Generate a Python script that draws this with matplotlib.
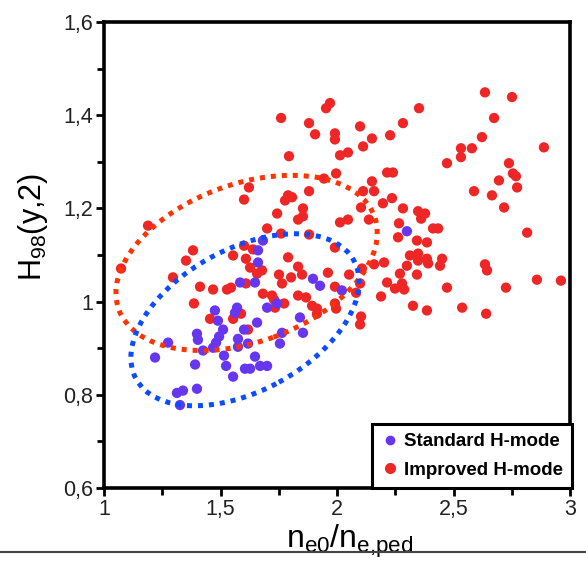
import matplotlib
matplotlib.use('Agg')
import matplotlib.pyplot as plt
from matplotlib.patches import Ellipse
from matplotlib.lines import Line2D

plt.rcParams['font.family'] = ['Liberation Sans', 'DejaVu Sans']
plt.rcParams['mathtext.fontset'] = 'custom'
plt.rcParams['mathtext.rm'] = 'Liberation Sans'
plt.rcParams['mathtext.it'] = 'Liberation Sans'

# ---------------- data ----------------
imp_x = [1.189, 1.601, 1.622, 1.382, 1.601, 1.970, 1.953, 1.760, 1.880, 1.906,
         1.991, 1.991, 2.099, 2.150, 2.112, 2.228, 2.283, 1.794, 2.013, 2.047,
         1.996, 1.944, 2.215, 2.240, 2.150, 2.112, 2.159, 1.880, 1.790, 1.807,
         1.777, 1.854, 1.854, 1.833, 1.743, 2.236, 2.197, 2.283, 2.103, 2.137,
         2.013, 2.047, 2.266, 2.262, 1.700, 1.760, 1.880, 1.991, 2.635, 2.751,
         2.352, 2.674, 2.622, 2.532, 2.579, 2.532, 2.472, 2.888, 2.738, 2.755,
         2.768, 2.695, 2.773, 2.588, 2.665, 2.717, 2.348, 2.378, 2.361, 2.412,
         2.434, 2.816, 2.343, 2.386, 2.313, 2.348, 2.386, 2.348, 2.391, 2.300,
         2.451, 2.442, 2.635, 2.644, 2.343, 2.270, 2.279, 2.288, 2.472, 2.725,
         2.858, 2.961, 2.326, 2.386, 2.537, 2.640, 1.790, 1.833, 1.850, 1.961,
         1.751, 1.764, 1.803, 2.052, 2.107, 2.099, 1.991, 2.159, 2.202, 2.215,
         2.249, 2.189, 2.082, 1.682, 1.721, 1.730, 1.773, 1.833, 1.867, 1.893,
         1.914, 1.914, 1.991, 1.996, 2.103, 2.099, 1.627, 1.657, 1.678, 1.734,
         1.073, 1.352, 1.296, 1.412, 1.468, 1.528, 1.545, 1.609, 1.386, 1.455,
         1.554, 1.588, 1.618, 1.554, 1.609, 1.639]
imp_y = [1.163, 1.219, 1.245, 1.110, 1.120, 1.426, 1.415, 1.394, 1.383, 1.359,
         1.361, 1.348, 1.376, 1.350, 1.333, 1.357, 1.383, 1.312, 1.314, 1.320,
         1.275, 1.264, 1.277, 1.277, 1.258, 1.237, 1.237, 1.237, 1.228, 1.224,
         1.217, 1.200, 1.183, 1.176, 1.189, 1.222, 1.211, 1.200, 1.202, 1.176,
         1.170, 1.176, 1.168, 1.138, 1.157, 1.146, 1.144, 1.116, 1.449, 1.439,
         1.415, 1.394, 1.353, 1.329, 1.329, 1.310, 1.297, 1.331, 1.297, 1.275,
         1.269, 1.260, 1.245, 1.237, 1.228, 1.202, 1.194, 1.189, 1.178, 1.157,
         1.157, 1.148, 1.131, 1.127, 1.099, 1.103, 1.092, 1.088, 1.082, 1.077,
         1.092, 1.077, 1.080, 1.067, 1.058, 1.060, 1.039, 1.026, 1.030, 1.030,
         1.047, 1.045, 0.991, 0.981, 0.987, 0.974, 1.095, 1.075, 1.058, 1.062,
         1.058, 1.039, 1.052, 1.058, 1.071, 1.039, 1.032, 1.080, 1.084, 1.041,
         1.028, 1.011, 1.019, 1.017, 1.013, 1.004, 0.996, 1.013, 1.009, 0.991,
         0.985, 0.974, 0.996, 0.985, 0.968, 0.951, 1.073, 1.060, 1.067, 0.987,
         1.071, 1.088, 1.052, 1.032, 1.026, 1.026, 1.030, 1.039, 0.996, 0.963,
         0.963, 0.974, 0.940, 1.099, 1.092, 1.112]

std_x = [2.300, 1.682, 1.661, 1.661, 1.584, 1.648, 1.700, 1.743, 1.897, 1.927,
         2.021, 1.476, 1.489, 1.571, 1.562, 1.657, 1.841, 1.854, 1.764, 1.755,
         1.399, 1.403, 1.511, 1.494, 1.481, 1.468, 1.425, 1.275, 1.219, 1.391,
         1.515, 1.524, 1.575, 1.575, 1.618, 1.601, 1.648, 1.605, 1.554, 1.670,
         1.700, 1.627, 1.313, 1.339, 1.399, 1.326]
std_y = [1.151, 1.131, 1.110, 1.084, 1.041, 1.041, 0.987, 0.996, 1.049, 1.034,
         1.024, 0.981, 0.959, 0.987, 0.976, 0.955, 0.966, 0.933, 0.933, 0.910,
         0.931, 0.918, 0.940, 0.925, 0.912, 0.901, 0.895, 0.912, 0.880, 0.865,
         0.884, 0.862, 0.920, 0.903, 0.910, 0.940, 0.882, 0.856, 0.839, 0.862,
         0.862, 0.856, 0.804, 0.809, 0.813, 0.778]

series_labels = ['Standard H-mode', 'Improved H-mode']

x_ticks = [1, 1.5, 2, 2.5, 3]
x_ticklabels = ['1', '1,5', '2', '2,5', '3']
y_ticks = [0.6, 0.8, 1.0, 1.2, 1.4, 1.6]
y_ticklabels = ['0,6', '0,8', '1', '1,2', '1,4', '1,6']

# ellipse annotations: centre (data units), full size (axes fraction), angle (deg)
red_ell_center = (1.612, 1.083)
red_ell_size = (0.584, 0.339)
red_ell_angle = 20
blue_ell_center = (1.605, 0.961)
blue_ell_size = (0.532, 0.305)
blue_ell_angle = 28.5

# ---------------- styles ----------------
RED = '#ee2626'
PURPLE = '#6636f0'
RED_ELL = '#ff3300'
BLUE_ELL = '#0a4cff'

fig = plt.figure(figsize=(5.86, 5.64), dpi=100)
ax = fig.add_axes([104 / 586, 1 - 488 / 564, 466 / 586, 466 / 564])

ax.scatter(imp_x, imp_y, s=55, c=RED, edgecolors='none', zorder=2)
ax.scatter(std_x, std_y, s=55, c=PURPLE, edgecolors='none', zorder=3)

ax.set_xlim(1, 3)
ax.set_ylim(0.6, 1.6)

for (c, size, ang, col) in [(red_ell_center, red_ell_size, red_ell_angle, RED_ELL),
                            (blue_ell_center, blue_ell_size, blue_ell_angle, BLUE_ELL)]:
    ca = ax.transLimits.transform(c)
    e = Ellipse(ca, size[0], size[1], angle=ang, transform=ax.transAxes,
                fill=False, edgecolor=col, linewidth=3.6,
                linestyle=(0, (1, 1.2)), zorder=4)
    ax.add_patch(e)

ax.set_xticks(x_ticks)
ax.set_xticklabels(x_ticklabels)
ax.set_yticks(y_ticks)
ax.set_yticklabels(y_ticklabels)
ax.set_xticks([1.25, 1.75, 2.25, 2.75], minor=True)
ax.set_yticks([0.7, 0.9, 1.1, 1.3, 1.5], minor=True)
ax.tick_params(which='major', direction='out', length=6, width=2, labelsize=15.5,
               labelcolor='#222222', pad=2)
ax.tick_params(which='minor', direction='out', length=5, width=2)

for sp in ax.spines.values():
    sp.set_linewidth(2.6)

ax.set_xlabel(r'n$_{\mathregular{e0}}$/n$_{\mathregular{e{,}ped}}$', fontsize=23, labelpad=0)
ax.set_ylabel(r'H$_{\mathregular{98}}$(y,2)', fontsize=22, labelpad=4)
ax.xaxis.set_label_coords(0.527, -0.075)
ax.yaxis.set_label_coords(-0.115, 0.56)

handles = [Line2D([], [], marker='o', linestyle='none', markersize=7,
                  markerfacecolor=PURPLE, markeredgecolor='none'),
           Line2D([], [], marker='o', linestyle='none', markersize=8,
                  markerfacecolor=RED, markeredgecolor='none')]
leg = ax.legend(handles, series_labels, loc='lower right',
                bbox_to_anchor=(1.005, 0.0), borderaxespad=0.0,
                prop={'weight': 'bold', 'size': 13.5}, frameon=True,
                fancybox=False, framealpha=1, edgecolor='black',
                handletextpad=0.3, handlelength=0.9, borderpad=0.5,
                labelspacing=0.6)
leg.get_frame().set_linewidth(2.2)
leg.set_zorder(6)

fig.add_artist(Line2D([0, 1], [1 - 552 / 564, 1 - 552 / 564],
                      transform=fig.transFigure, color='#444444', linewidth=1.5))

fig.savefig('out.png', dpi=100)
